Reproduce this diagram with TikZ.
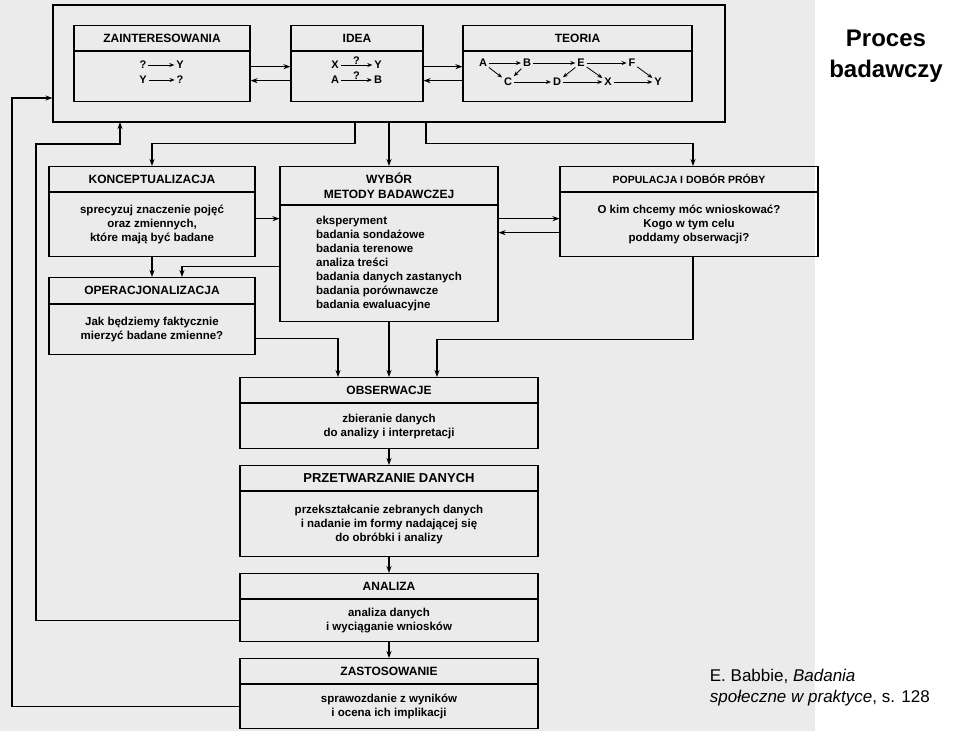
\documentclass[tikz,border=0pt]{standalone}
\usepackage{fontspec}
\setmainfont{Liberation Sans}
\usetikzlibrary{arrows.meta,positioning,calc}

\begin{document}
\begin{tikzpicture}[x=1pt, y=-1pt, >={Stealth[length=7pt,width=5pt]}, line width=1.1pt]
        \tikzset{
            ramka/.style={draw, rectangle, inner sep=0pt},
            naglowek/.style={draw, rectangle, anchor=north, inner sep=0pt, minimum height=25pt, align=center, font=\fontsize{12}{14.5}\selectfont\bfseries},
            tresc/.style={draw, rectangle, anchor=north, inner sep=0pt, align=center, font=\fontsize{11.5}{14}\selectfont\bfseries},
            litera/.style={inner sep=1pt, font=\fontsize{11}{12}\selectfont\bfseries},
            strzalka/.style={draw, ->},
            mstrzalka/.style={draw, ->, line width=0.8pt, >={Stealth[length=5pt,width=4pt]}, shorten >=0.5pt, shorten <=0.5pt}
        }

        % Scanned page
        \fill [black!8] (0,0) rectangle (815,731);
        \useasboundingbox (0,0) rectangle (960,731);

        % Outer frame
        \node [ramka, minimum width=672pt, minimum height=117pt] (ramka) at (389,63.5) {};

        % Top boxes
        \node [naglowek, minimum width=176pt] (zaint) at (162,25) {ZAINTERESOWANIA};
        \node [tresc, minimum width=176pt, minimum height=50pt, below=0pt of zaint] (zainb) {};
        \node [naglowek, minimum width=132pt] (ideat) at (357,25) {IDEA};
        \node [tresc, minimum width=132pt, minimum height=50pt, below=0pt of ideat] (ideab) {};
        \node [naglowek, minimum width=229pt] (teot) at (577.5,25) {TEORIA};
        \node [tresc, minimum width=229pt, minimum height=50pt, below=0pt of teot] (teob) {};

        % Little diagrams inside
        \node [litera] (zq1) at (143,65) {?};
        \node [litera] (zy1) at (180,65) {Y};
        \node [litera] (zy2) at (143,80) {Y};
        \node [litera] (zq2) at (180,80) {?};
        \draw [mstrzalka] (zq1) -- (zy1);
        \draw [mstrzalka] (zy2) -- (zq2);

        \node [litera] (ix) at (335,65) {X};
        \node [litera] (iy) at (378,65) {Y};
        \node [litera] (ia) at (335,80) {A};
        \node [litera] (ib) at (378,80) {B};
        \draw [mstrzalka] (ix) -- node[litera, above, inner sep=0pt] (iq1) {?} (iy);
        \draw [mstrzalka] (ia) -- node[litera, above, inner sep=0pt] (iq2) {?} (ib);

        \node [litera] (ta) at (483,63) {A};
        \node [litera] (tb) at (527,63) {B};
        \node [litera] (te) at (581,63) {E};
        \node [litera] (tf) at (632,63) {F};
        \node [litera] (tc) at (508,82) {C};
        \node [litera] (td) at (557,82) {D};
        \node [litera] (tx) at (608,82) {X};
        \node [litera] (ty) at (658,82) {Y};
        \foreach \a/\b in {ta/tb, tb/te, te/tf, ta/tc, tb/tc, tc/td, te/td, te/tx, td/tx, tx/ty, tf/ty}
            \draw [mstrzalka] (\a) -- (\b);

        % Middle boxes
        \node [naglowek, minimum width=206pt] (konct) at (152,166) {KONCEPTUALIZACJA};
        \node [tresc, minimum width=206pt, minimum height=64pt, below=0pt of konct] (koncb) {sprecyzuj znaczenie pojęć\\oraz zmiennych,\\które mają być badane};
        \node [naglowek, minimum width=206pt, minimum height=26pt] (opert) at (152,277) {OPERACJONALIZACJA};
        \node [tresc, minimum width=206pt, minimum height=50pt, below=0pt of opert] (operb) {Jak będziemy faktycznie\\mierzyć badane zmienne?};
        \node [naglowek, minimum width=218pt, minimum height=38pt] (wybt) at (389,166) {WYBÓR\\METODY BADAWCZEJ};
        \node [tresc, minimum width=218pt, minimum height=116pt, align=left, below=0pt of wybt] (wybb) {eksperyment\\badania sondażowe\\badania terenowe\\analiza treści\\badania danych zastanych\\badania porównawcze\\badania ewaluacyjne};
        \node [naglowek, minimum width=258pt, font=\fontsize{10.5}{12}\selectfont\bfseries] (popt) at (689,166) {POPULACJA I DOBÓR PRÓBY};
        \node [tresc, minimum width=258pt, minimum height=64pt, below=0pt of popt] (popb) {O kim chcemy móc wnioskować?\\Kogo w tym celu\\poddamy obserwacji?};

        % Lower chain
        \node [naglowek, minimum width=298pt] (obst) at (389,377) {OBSERWACJE};
        \node [tresc, minimum width=298pt, minimum height=45pt, below=0pt of obst] (obsb) {zbieranie danych\\do analizy i interpretacji};
        \node [naglowek, minimum width=298pt, font=\fontsize{13}{15}\selectfont\bfseries] (przt) at (389,465) {PRZETWARZANIE DANYCH};
        \node [tresc, minimum width=298pt, minimum height=65pt, below=0pt of przt] (przb) {przekształcanie zebranych danych\\i nadanie im formy nadającej się\\do obróbki i analizy};
        \node [naglowek, minimum width=298pt] (anat) at (389,573) {ANALIZA};
        \node [tresc, minimum width=298pt, minimum height=42pt, below=0pt of anat] (anab) {analiza danych\\i wyciąganie wniosków};
        \node [naglowek, minimum width=298pt] (zastt) at (389,658) {ZASTOSOWANIE};
        \node [tresc, minimum width=298pt, minimum height=44pt, below=0pt of zastt] (zastb) {sprawozdanie z wyników\\i ocena ich implikacji};

        % Title and source
        \node [font=\fontsize{24}{31}\selectfont\bfseries, align=center] (tytul) at (886,56) {Proces\\badawczy};
        \node [font=\fontsize{17}{21}\selectfont, align=left, anchor=west] (zrodlo) at (706,688) {E. Babbie, \textit{Badania}\\\textit{społeczne w praktyce}, s. 128};

        % Connections in the frame
        \draw [strzalka] ([yshift=10pt]zainb.east) -- ([yshift=10pt]zainb.east -| ideab.west);
        \draw [strzalka] ([yshift=-4pt]ideab.west) -- ([yshift=-4pt]ideab.west -| zainb.east);
        \draw [strzalka] ([yshift=10pt]ideab.east) -- ([yshift=10pt]ideab.east -| teob.west);
        \draw [strzalka] ([yshift=-4pt]teob.west) -- ([yshift=-4pt]teob.west -| ideab.east);

        % Frame to middle boxes
        \draw [strzalka] ([xshift=-34pt]ramka.south) -- ++(0,21) -| (konct.north);
        \draw [strzalka] (ramka.south -| wybt.north) -- (wybt.north);
        \draw [strzalka] ([xshift=37pt]ramka.south) -- ++(0,21) -| ([xshift=4pt]popt.north);

        % Middle connections
        \draw [strzalka] ([yshift=6pt]koncb.east) -- ([yshift=6pt]koncb.east -| wybb.west);
        \draw [strzalka] (koncb.south) -- (opert.north);
        \draw [strzalka] ([yshift=-3pt]wybb.west) -| ([xshift=30pt]opert.north);
        \draw [strzalka] ([yshift=6pt]popb.west -| wybb.east) -- ([yshift=6pt]popb.west);
        \draw [strzalka] ([yshift=-8pt]popb.west) -- ([yshift=-8pt]popb.west -| wybb.east);

        % Into observation
        \draw [strzalka] ([yshift=-9pt]operb.east) -| ([xshift=-51pt]obst.north);
        \draw [strzalka] (wybb.south) -- (obst.north);
        \draw [strzalka] ([xshift=4pt]popb.south) -- ++(0,82) -| ([xshift=48pt]obst.north);

        % Chain
        \draw [strzalka] (obsb.south) -- (przt.north);
        \draw [strzalka] (przb.south) -- (anat.north);
        \draw [strzalka] (anab.south) -- (zastt.north);

        % Feedback to the frame
        \coordinate (lew1) at (12,98);
        \coordinate (lew2) at (36,144);
        \coordinate (wej2) at (120,122);
        \draw [strzalka] (zastb.west) -| (lew1) -- (lew1 -| ramka.west);
        \draw [strzalka] (anab.west) -| (lew2) -| (wej2);

    \end{tikzpicture}
\end{document}
